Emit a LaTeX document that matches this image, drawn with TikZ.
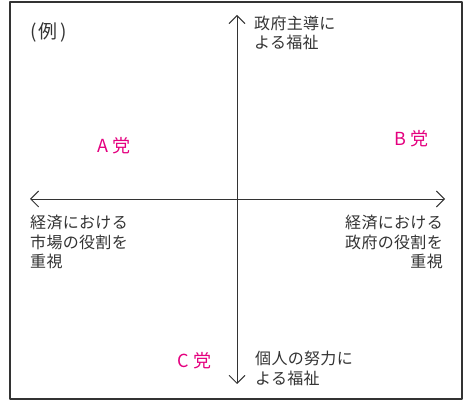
\documentclass[tikz,border=0pt]{standalone}
\usepackage{fontspec}
\usetikzlibrary{arrows.meta}
\newfontfamily\jpfont[LetterSpace=2]{Noto Sans CJK JP}
\definecolor{axisgray}{HTML}{333333}
\definecolor{partypink}{HTML}{E4007F}
\begin{document}
\begin{tikzpicture}[>={Straight Barb[length=8bp,width=16bp]},line join=bevel,
  lbl/.style={inner sep=0pt,text=axisgray,font=\jpfont\fontsize{16bp}{19.5bp}\selectfont},
  party/.style={inner sep=0pt,text=partypink,font=\jpfont\fontsize{18bp}{20bp}\selectfont}]
%%
\useasboundingbox (0bp,0bp) rectangle (467bp,401bp);
\draw [axisgray,line width=1.2bp] (10bp,2bp) rectangle (462bp,399bp);
  \coordinate (ax_top) at (237bp,386bp);
  \coordinate (ax_bot) at (237bp,17bp);
  \coordinate (ax_left) at (30bp,202bp);
  \coordinate (ax_right) at (445bp,202bp);
  \node (ex) at (30bp,369bp) [lbl,anchor=west,font=\jpfont\fontsize{19bp}{20bp}\selectfont] {(\hspace{2bp}例\hspace{3bp})};
  \node (gov_lead) at (254bp,368bp) [lbl,anchor=west,align=left] {政府主導に\\よる福祉};
  \node (self_help) at (255bp,32.5bp) [lbl,anchor=west,align=left] {個人の努力に\\よる福祉};
  \node (market) at (30bp,159bp) [lbl,anchor=west,align=left] {経済における\\市場の役割を\\重視};
  \node (gov_role) at (443bp,159bp) [lbl,anchor=east,align=right] {経済における\\政府の役割を\\重視};
  \node (party_a) at (114bp,255.5bp) [party] {A\hspace{5bp}党};
  \node (party_b) at (411.5bp,262.5bp) [party] {B\hspace{5bp}党};
  \node (party_c) at (194.5bp,40bp) [party] {C\hspace{5bp}党};
  \draw [axisgray,<->,solid,line width=0.9bp] (ax_left) -- (ax_right);
  \draw [axisgray,<->,solid,line width=0.9bp] (ax_bot) -- (ax_top);
%
\end{tikzpicture}
\end{document}
